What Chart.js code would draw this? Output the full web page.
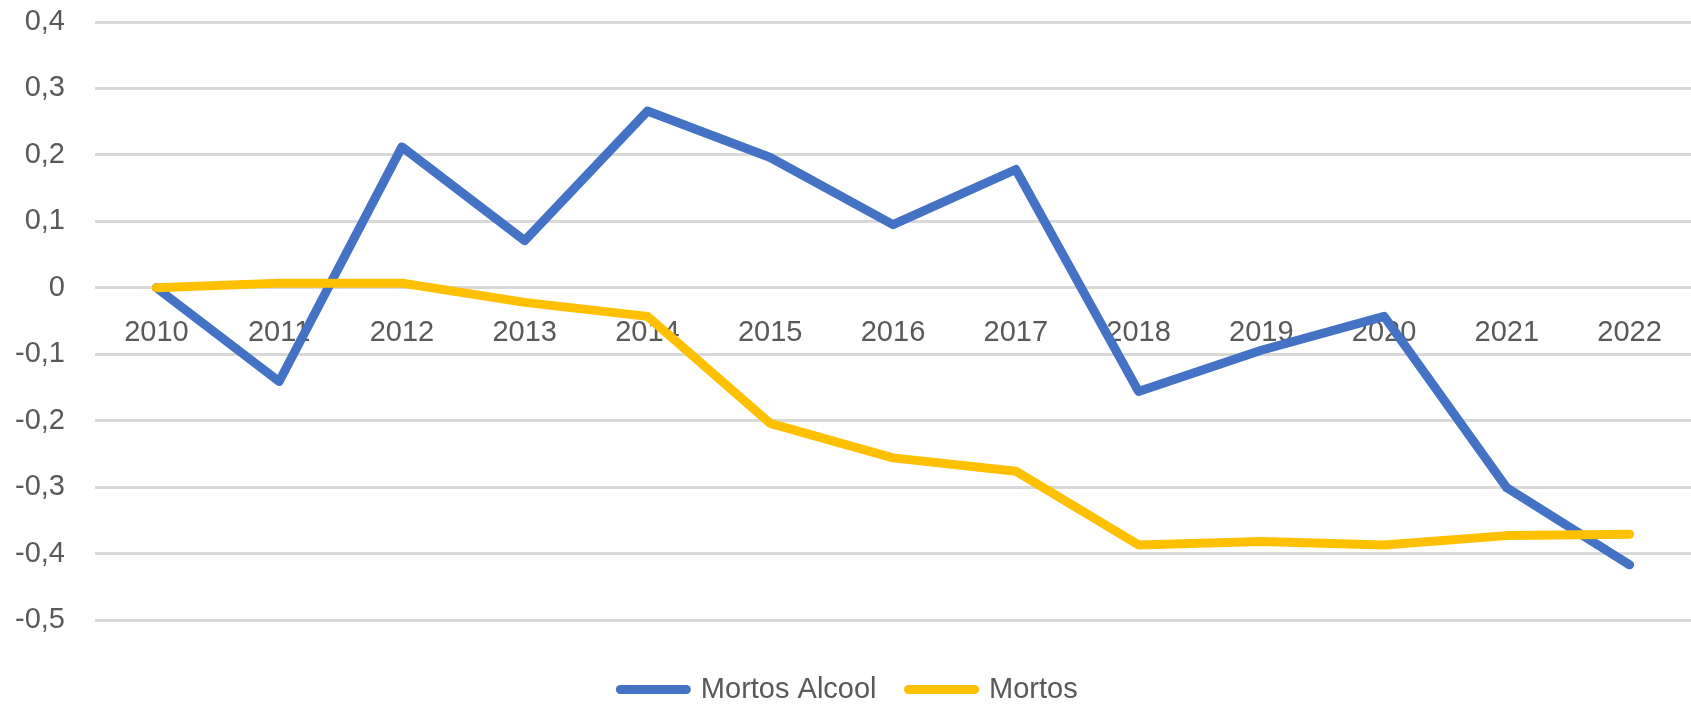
<!DOCTYPE html>
<html lang="pt">
<head>
    <meta charset="UTF-8">
    <title>Mortos</title>
    <script src="https://cdn.jsdelivr.net/npm/chart.js"></script>
    <style>
        html, body { margin: 0; padding: 0; background: #fff; }
        #wrap { width: 1691px; height: 704px; position: relative; }
    </style>
</head>
<body>
    <div id="wrap"><canvas id="grafico"></canvas></div>
    <script>
        // dados
        const anos = ['2010', '2011', '2012', '2013', '2014', '2015', '2016', '2017', '2018', '2019', '2020', '2021', '2022'];
        const mortosAlcool = [0, -0.141, 0.212, 0.071, 0.266, 0.196, 0.095, 0.178, -0.156, -0.094, -0.043, -0.301, -0.417];
        const mortos = [0, 0.007, 0.007, -0.022, -0.043, -0.204, -0.256, -0.276, -0.387, -0.382, -0.387, -0.373, -0.371];
        const yMin = -0.5, yMax = 0.4, yPasso = 0.1;

        const fonte = { family: '"Liberation Sans", Arial, sans-serif', size: 29 };

        function formataTick(v) {
            const r = Math.round(v * 10) / 10;
            if (r === 0) return '0';
            return r.toFixed(1).replace('.', ',');
        }

        new Chart(document.getElementById('grafico'), {
            type: 'line',
            data: {
                labels: anos,
                datasets: [{
                    label: 'Mortos Alcool',
                    data: mortosAlcool,
                    borderColor: '#4472C4',
                    backgroundColor: '#4472C4',
                    borderWidth: 9,
                    pointRadius: 0,
                    tension: 0,
                    borderCapStyle: 'round',
                    borderJoinStyle: 'round',
                    order: 1
                }, {
                    label: 'Mortos',
                    data: mortos,
                    borderColor: '#FFC000',
                    backgroundColor: '#FFC000',
                    borderWidth: 9,
                    pointRadius: 0,
                    tension: 0,
                    borderCapStyle: 'round',
                    borderJoinStyle: 'round',
                    order: 0
                }]
            },
            options: {
                responsive: true,
                maintainAspectRatio: false,
                animation: false,
                layout: { padding: { top: 0, left: 7, right: 0, bottom: -10 } },
                plugins: {
                    tooltip: { enabled: false },
                    legend: {
                        position: 'bottom',
                        title: { display: true, text: ' ', font: { size: 10 }, padding: 5.5 },
                        labels: {
                            font: fonte,
                            color: '#595959',
                            usePointStyle: true,
                            pointStyle: 'line',
                            pointStyleWidth: 66,
                            boxHeight: 9,
                            padding: 32,
                            sort: (a, b) => a.datasetIndex - b.datasetIndex,
                            generateLabels(chart) {
                                const itens = Chart.defaults.plugins.legend.labels.generateLabels(chart);
                                itens.forEach(i => { i.lineCap = 'round'; i.lineWidth = 9; });
                                return itens;
                            }
                        }
                    }
                },
                scales: {
                    x: {
                        position: { y: 0 },
                        offset: true,
                        grid: { display: false, drawTicks: false },
                        border: { display: false },
                        ticks: { font: fonte, color: '#595959', padding: 28, maxRotation: 0, autoSkip: false }
                    },
                    y: {
                        min: yMin,
                        max: yMax,
                        grid: { color: '#d9d9d9', lineWidth: 3, drawTicks: false },
                        border: { display: false },
                        ticks: {
                            stepSize: yPasso,
                            font: fonte,
                            color: '#595959',
                            padding: 30,
                            callback: formataTick
                        },
                        afterFit(s) {
                            s.width = 88;
                            s.paddingTop = 22;
                            s.paddingBottom = 17;
                        }
                    }
                }
            }
        });
    </script>
</body>
</html>
